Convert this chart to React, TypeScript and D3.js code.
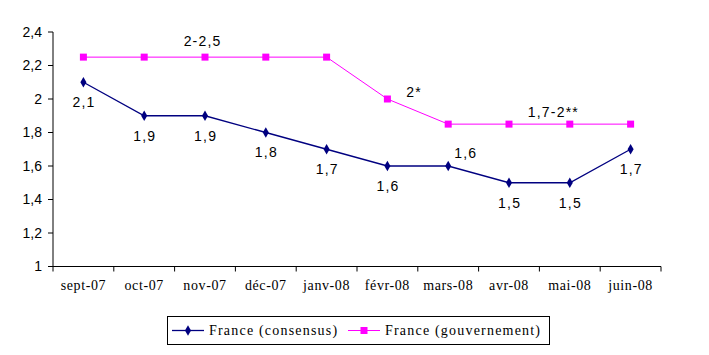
import React from "react";
import * as d3 from "d3";

const categories = ["sept-07", "oct-07", "nov-07", "déc-07", "janv-08", "févr-08", "mars-08", "avr-08", "mai-08", "juin-08"];
const consensus = [2.1, 1.9, 1.9, 1.8, 1.7, 1.6, 1.6, 1.5, 1.5, 1.7];
const gouvernement = [2.25, 2.25, 2.25, 2.25, 2.25, 2.0, 1.85, 1.85, 1.85, 1.85];
const consensusLabels = ["2,1", "1,9", "1,9", "1,8", "1,7", "1,6", "1,6", "1,5", "1,5", "1,7"];
const govLabels = [
  { i: 2, text: "2-2,5" },
  { i: 5, text: "2*" },
  { i: 8, text: "1,7-2**" },
];
const yTicks = [1, 1.2, 1.4, 1.6, 1.8, 2, 2.2, 2.4];
const seriesNames = ["France (consensus)", "France (gouvernement)"];

export default function App() {
  const W = 709, H = 355;
  const x = d3.scaleBand<string>().domain(categories).range([53, 661]);
  const y = d3.scaleLinear().domain([1, 2.4]).range([266.5, 32]);
  const cx = (i: number) => (x(categories[i]) as number) + x.bandwidth() / 2;
  const line = d3.line<number>().x((_, i) => cx(i)).y((d) => y(d));
  const sans = "'Liberation Sans', Arial, sans-serif";
  const serif = "'Liberation Serif', 'Times New Roman', serif";
  const navy = "#000080";
  const mag = "#FF00FF";
  const fmt = (v: number) => d3.format("")(v).replace(".", ",");
  const consOffsets = consensusLabels.map((_, i) => (i === 6 ? { dx: 17, dy: -13 } : { dx: 0, dy: 20 }));
  const govPos: Record<number, { dx: number; dy: number }> = {
    2: { dx: -3, dy: -16 },
    5: { dx: 26, dy: -7 },
    8: { dx: -17, dy: -12 },
  };
  const diamond = d3.symbol().type(d3.symbolDiamond).size(32)();
  return (
    <svg width={W} height={H} style={{ position: "absolute", left: 0, top: 0, background: "#fff" }}>
      <rect x={0} y={0} width={W} height={H} fill="#fff" />
      {/* y axis */}
      <line x1={53} x2={53} y1={y(2.4)} y2={y(1)} stroke="#000" />
      {yTicks.map((t) => (
        <g key={t}>
          <line x1={48} x2={53} y1={y(t)} y2={y(t)} stroke="#000" />
          <text x={42} y={y(t)} dy="0.35em" textAnchor="end" fontFamily={sans} fontSize={14} fill="#000">
            {fmt(t)}
          </text>
        </g>
      ))}
      {/* x axis */}
      <line x1={53} x2={661} y1={y(1)} y2={y(1)} stroke="#000" />
      {categories.map((c, i) => (
        <g key={c}>
          <line x1={x(c) as number} x2={x(c) as number} y1={y(1)} y2={y(1) + 5} stroke="#000" />
          <text x={cx(i)} y={290} textAnchor="middle" fontFamily={serif} fontSize={14} fill="#000" letterSpacing={0.6}>
            {c}
          </text>
        </g>
      ))}
      <line x1={661} x2={661} y1={y(1)} y2={y(1) + 5} stroke="#000" />
      {/* series */}
      <path d={line(gouvernement) as string} fill="none" stroke={mag} strokeWidth={1} />
      <path d={line(consensus) as string} fill="none" stroke={navy} strokeWidth={1.3} />
      {gouvernement.map((v, i) => (
        <rect key={i} x={cx(i) - 3.5} y={y(v) - 3.5} width={7} height={7} fill={mag} />
      ))}
      {consensus.map((v, i) => (
        <path key={i} d={diamond as string} transform={`translate(${cx(i)},${y(v)})`} fill={navy} />
      ))}
      {/* labels */}
      {consensusLabels.map((l, i) => (
        <text key={i} x={cx(i) + consOffsets[i].dx + 0.6} y={y(consensus[i]) + consOffsets[i].dy} dy="0.35em" textAnchor="middle" fontFamily={sans} fontSize={14} fill="#000" letterSpacing={1.2}>
          {l}
        </text>
      ))}
      {govLabels.map((g) => (
        <text key={g.i} x={cx(g.i) + govPos[g.i].dx + 0.6} y={y(gouvernement[g.i]) + govPos[g.i].dy} dy="0.35em" textAnchor="middle" fontFamily={sans} fontSize={14} fill="#000" letterSpacing={1.2}>
          {g.text}
        </text>
      ))}
      {/* legend */}
      <rect x={167.5} y={316.5} width={382} height={28} fill="#fff" stroke="#000" />
      <line x1={172} x2={204} y1={330.5} y2={330.5} stroke={navy} strokeWidth={1.3} />
      <path d={diamond as string} transform="translate(188,330.5)" fill={navy} />
      <text x={209} y={330.5} dy="0.35em" fontFamily={serif} fontSize={14} fill="#000" letterSpacing={1.2}>
        {seriesNames[0]}
      </text>
      <line x1={348} x2={380} y1={330.5} y2={330.5} stroke={mag} />
      <rect x={360.5} y={327} width={7} height={7} fill={mag} />
      <text x={385} y={330.5} dy="0.35em" fontFamily={serif} fontSize={14} fill="#000" letterSpacing={1.2}>
        {seriesNames[1]}
      </text>
    </svg>
  );
}
